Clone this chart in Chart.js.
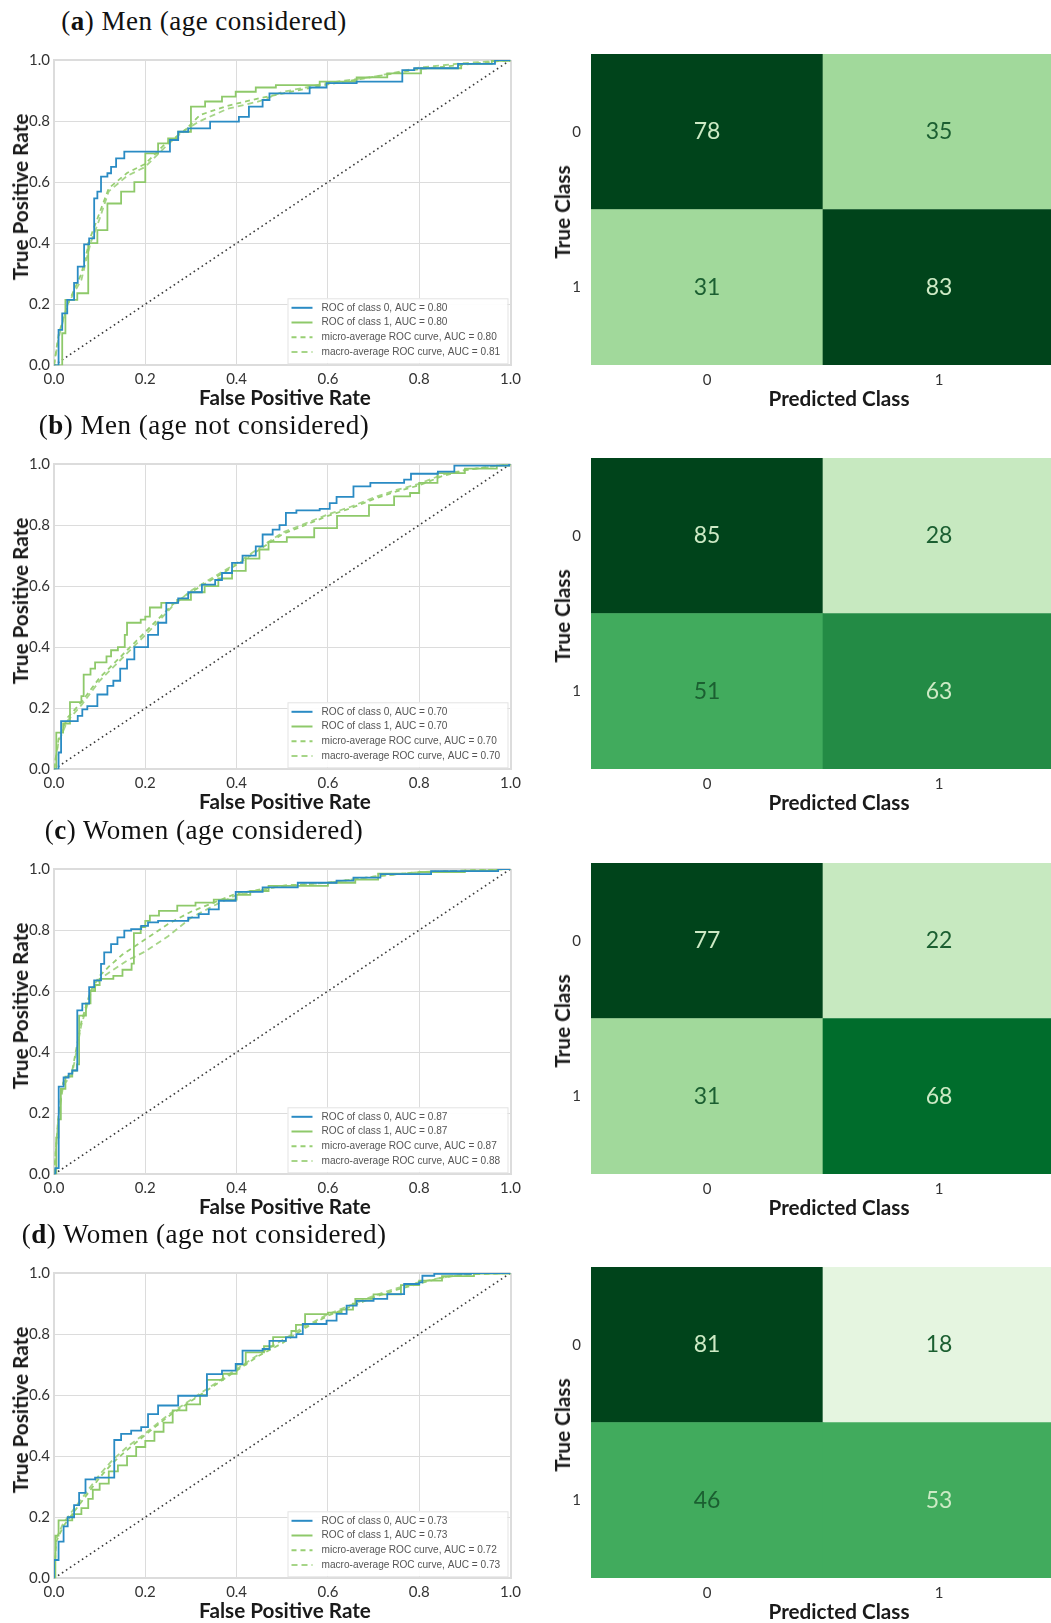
<!DOCTYPE html>
<html>
<head>
<meta charset="utf-8">
<script src="https://cdn.jsdelivr.net/npm/chart.js@4.4.1/dist/chart.umd.min.js"></script>
<style>
  body { margin: 0; background: #fff; width: 1051px; height: 1623px; position: relative; overflow: hidden; }
  .ptitle { position: absolute; font-family: "Liberation Serif", "Times New Roman", serif; font-size: 27px; letter-spacing: 0.5px; line-height: 26px; color: #111; white-space: nowrap; transform: translateX(-50%); }
  .atitle { position: absolute; font-family: Lato, "Open Sans", sans-serif; font-weight: bold; font-size: 20.7px; color: #1a1a1a; white-space: nowrap; transform: translate(-50%, -50%); }
  .atitle.rot { transform: translate(-50%, -50%) rotate(-90deg); }
  canvas { position: absolute; }
</style>
</head>
<body>
<script>
// ---- data ----
const rateTicks = [0, 0.2, 0.4, 0.6, 0.8, 1.0];
const classLabels = ['0', '1'];
const curveNames = ['ROC of class 0', 'ROC of class 1', 'micro-average ROC curve', 'macro-average ROC curve'];

// (a) Men (age considered)
const rocA0 = [[0,0],[0.010,0.116],[0.018,0.17],[0.029,0.214],[0.044,0.27],[0.052,0.323],[0.066,0.396],[0.077,0.416],[0.088,0.547],[0.095,0.569],[0.103,0.618],[0.117,0.629],[0.125,0.65],[0.136,0.678],[0.154,0.70],[0.254,0.738],[0.272,0.765],[0.294,0.776],[0.342,0.798],[0.405,0.814],[0.427,0.847],[0.457,0.869],[0.472,0.891],[0.560,0.910],[0.597,0.924],[0.663,0.929],[0.763,0.967],[0.789,0.973],[0.885,0.987],[0.966,1.0],[1,1]];
const rocA1 = [[0,0],[0.018,0.105],[0.025,0.214],[0.051,0.236],[0.075,0.40],[0.095,0.443],[0.117,0.53],[0.147,0.569],[0.176,0.60],[0.20,0.694],[0.228,0.727],[0.25,0.743],[0.272,0.765],[0.30,0.847],[0.331,0.864],[0.368,0.88],[0.398,0.896],[0.442,0.91],[0.486,0.918],[0.582,0.929],[0.663,0.943],[0.73,0.956],[0.804,0.973],[0.892,0.987],[0.959,0.997],[1,1]];
const rocAmicro = [[0,0],[0.01,0.1],[0.03,0.2],[0.06,0.3],[0.08,0.42],[0.1,0.5],[0.12,0.58],[0.16,0.63],[0.2,0.66],[0.24,0.72],[0.28,0.76],[0.32,0.82],[0.38,0.85],[0.45,0.875],[0.5,0.89],[0.6,0.92],[0.7,0.945],[0.8,0.97],[0.9,0.985],[1,1]];
const rocAmacro = [[0,0],[0.01,0.09],[0.03,0.2],[0.06,0.28],[0.08,0.4],[0.1,0.48],[0.12,0.57],[0.16,0.62],[0.2,0.65],[0.24,0.71],[0.28,0.765],[0.32,0.8],[0.38,0.84],[0.45,0.865],[0.5,0.895],[0.6,0.925],[0.7,0.945],[0.8,0.975],[0.9,0.99],[1,1]];
const aucA = [0.80, 0.80, 0.80, 0.81];
const cmA = [[78, 35], [31, 83]];

// (b) Men (age not considered)
const rocB0 = [[0,0],[0.010,0.055],[0.0155,0.158],[0.052,0.175],[0.062,0.196],[0.073,0.207],[0.095,0.245],[0.117,0.273],[0.13,0.29],[0.145,0.33],[0.16,0.36],[0.176,0.40],[0.206,0.44],[0.228,0.48],[0.246,0.545],[0.272,0.56],[0.294,0.58],[0.324,0.605],[0.353,0.62],[0.368,0.643],[0.39,0.676],[0.413,0.70],[0.442,0.73],[0.457,0.769],[0.479,0.785],[0.494,0.80],[0.508,0.84],[0.531,0.848],[0.582,0.853],[0.604,0.872],[0.619,0.892],[0.656,0.927],[0.693,0.938],[0.767,0.949],[0.782,0.968],[0.841,0.975],[0.877,0.995],[0.997,1.0],[1,1]];
const rocB1 = [[0,0],[0.005,0.12],[0.02,0.15],[0.035,0.22],[0.06,0.24],[0.065,0.31],[0.08,0.33],[0.09,0.35],[0.115,0.37],[0.125,0.39],[0.14,0.40],[0.155,0.44],[0.16,0.48],[0.19,0.49],[0.2,0.50],[0.21,0.53],[0.235,0.545],[0.27,0.555],[0.3,0.58],[0.33,0.6],[0.36,0.625],[0.39,0.65],[0.42,0.69],[0.45,0.72],[0.47,0.745],[0.51,0.76],[0.57,0.79],[0.62,0.83],[0.69,0.865],[0.745,0.894],[0.78,0.905],[0.80,0.938],[0.84,0.97],[0.9,0.985],[0.97,0.995],[1,1]];
const rocBmicro = [[0,0],[0.01,0.1],[0.03,0.17],[0.06,0.22],[0.1,0.3],[0.14,0.36],[0.18,0.42],[0.22,0.48],[0.26,0.54],[0.3,0.58],[0.35,0.625],[0.4,0.67],[0.45,0.72],[0.5,0.77],[0.55,0.8],[0.6,0.83],[0.65,0.855],[0.7,0.885],[0.75,0.91],[0.8,0.93],[0.85,0.96],[0.9,0.98],[0.95,0.99],[1,1]];
const rocBmacro = [[0,0],[0.01,0.09],[0.03,0.16],[0.06,0.21],[0.1,0.29],[0.14,0.35],[0.18,0.41],[0.22,0.47],[0.26,0.535],[0.3,0.585],[0.35,0.63],[0.4,0.675],[0.45,0.725],[0.5,0.775],[0.55,0.805],[0.6,0.835],[0.65,0.86],[0.7,0.89],[0.75,0.915],[0.8,0.935],[0.85,0.965],[0.9,0.98],[0.95,0.99],[1,1]];
const aucB = [0.70, 0.70, 0.70, 0.70];
const cmB = [[85, 28], [51, 63]];

// (c) Women (age considered)
const rocC0 = [[0,0],[0.003,0.02],[0.0103,0.287],[0.021,0.317],[0.032,0.33],[0.04,0.34],[0.051,0.537],[0.062,0.559],[0.077,0.613],[0.088,0.635],[0.103,0.689],[0.11,0.727],[0.125,0.754],[0.139,0.776],[0.154,0.798],[0.169,0.803],[0.191,0.814],[0.206,0.825],[0.228,0.83],[0.294,0.841],[0.317,0.852],[0.339,0.868],[0.361,0.896],[0.398,0.925],[0.457,0.94],[0.534,0.955],[0.619,0.962],[0.656,0.972],[0.715,0.983],[0.826,0.993],[0.973,1.0],[1,1]];
const rocC1 = [[0,0],[0.005,0.12],[0.01,0.18],[0.015,0.28],[0.025,0.32],[0.04,0.34],[0.05,0.36],[0.055,0.52],[0.07,0.56],[0.08,0.6],[0.09,0.62],[0.1,0.64],[0.13,0.65],[0.15,0.67],[0.17,0.69],[0.175,0.79],[0.19,0.81],[0.2,0.83],[0.21,0.847],[0.23,0.863],[0.27,0.88],[0.31,0.89],[0.35,0.90],[0.4,0.915],[0.43,0.928],[0.47,0.945],[0.6,0.955],[0.66,0.965],[0.71,0.985],[0.8,0.99],[0.9,0.995],[0.97,1.0],[1,1]];
const rocCmicro = [[0,0],[0.01,0.2],[0.02,0.3],[0.04,0.34],[0.06,0.5],[0.08,0.6],[0.1,0.65],[0.12,0.68],[0.15,0.72],[0.2,0.77],[0.25,0.82],[0.3,0.86],[0.35,0.89],[0.4,0.92],[0.5,0.945],[0.6,0.955],[0.7,0.975],[0.8,0.99],[0.9,0.995],[1,1]];
const rocCmacro = [[0,0],[0.01,0.19],[0.02,0.29],[0.04,0.33],[0.06,0.49],[0.08,0.59],[0.1,0.64],[0.13,0.67],[0.16,0.7],[0.2,0.73],[0.25,0.78],[0.3,0.84],[0.35,0.88],[0.4,0.915],[0.5,0.945],[0.6,0.955],[0.7,0.975],[0.8,0.99],[0.9,0.995],[1,1]];
const aucC = [0.87, 0.87, 0.87, 0.88];
const cmC = [[77, 22], [31, 68]];

// (d) Women (age not considered)
const rocD0 = [[0,0],[0,0.06],[0.01,0.12],[0.021,0.17],[0.03,0.2],[0.044,0.24],[0.055,0.28],[0.069,0.324],[0.09,0.33],[0.132,0.342],[0.132,0.453],[0.147,0.473],[0.169,0.484],[0.191,0.495],[0.206,0.538],[0.228,0.566],[0.272,0.598],[0.335,0.669],[0.368,0.68],[0.398,0.702],[0.413,0.746],[0.457,0.751],[0.472,0.778],[0.508,0.789],[0.531,0.80],[0.545,0.833],[0.597,0.844],[0.619,0.866],[0.641,0.893],[0.663,0.909],[0.70,0.915],[0.73,0.931],[0.767,0.964],[0.80,0.969],[0.807,0.991],[0.833,0.997],[0.914,1.0],[1,1]];
const rocD1 = [[0,0],[0.003,0.14],[0.01,0.19],[0.04,0.21],[0.06,0.23],[0.075,0.26],[0.085,0.29],[0.1,0.31],[0.12,0.35],[0.14,0.37],[0.16,0.40],[0.18,0.43],[0.2,0.45],[0.22,0.48],[0.24,0.51],[0.26,0.55],[0.29,0.57],[0.32,0.6],[0.335,0.65],[0.37,0.67],[0.4,0.7],[0.42,0.74],[0.46,0.76],[0.48,0.79],[0.52,0.81],[0.53,0.83],[0.55,0.865],[0.6,0.87],[0.63,0.88],[0.655,0.9],[0.66,0.915],[0.7,0.93],[0.76,0.96],[0.8,0.975],[0.85,0.99],[0.92,0.998],[1,1]];
const rocDmicro = [[0,0],[0.005,0.12],[0.02,0.17],[0.05,0.23],[0.08,0.29],[0.1,0.33],[0.13,0.38],[0.16,0.42],[0.2,0.47],[0.25,0.53],[0.3,0.58],[0.35,0.63],[0.4,0.68],[0.45,0.73],[0.5,0.77],[0.55,0.82],[0.6,0.86],[0.65,0.89],[0.7,0.92],[0.75,0.945],[0.8,0.965],[0.85,0.985],[0.9,0.995],[1,1]];
const rocDmacro = [[0,0],[0.005,0.13],[0.02,0.18],[0.05,0.24],[0.08,0.3],[0.1,0.34],[0.13,0.39],[0.16,0.43],[0.2,0.475],[0.25,0.535],[0.3,0.585],[0.35,0.635],[0.4,0.685],[0.45,0.735],[0.5,0.78],[0.55,0.825],[0.6,0.865],[0.65,0.895],[0.7,0.925],[0.75,0.95],[0.8,0.97],[0.85,0.985],[0.9,0.995],[1,1]];
const aucD = [0.73, 0.73, 0.72, 0.73];
const cmD = [[81, 18], [46, 53]];

// cell colours (Greens), rows = true class
const cmColorsA = [['#00441b', '#a1d99b'], ['#a1d99b', '#00441b']];
const cmColorsB = [['#00441b', '#c7e9c0'], ['#41ab5d', '#238b45']];
const cmColorsC = [['#00441b', '#c7e9c0'], ['#a1d99b', '#006d2c']];
const cmColorsD = [['#00441b', '#e5f5e0'], ['#41ab5d', '#41ab5d']];

const panels = [
  { tag: 'a', title: 'Men (age considered)', top: 0, roc: [rocA0, rocA1, rocAmicro, rocAmacro], auc: aucA, cm: cmA, colors: cmColorsA },
  { tag: 'b', title: 'Men (age not considered)', top: 404, roc: [rocB0, rocB1, rocBmicro, rocBmacro], auc: aucB, cm: cmB, colors: cmColorsB },
  { tag: 'c', title: 'Women (age considered)', top: 809, roc: [rocC0, rocC1, rocCmicro, rocCmacro], auc: aucC, cm: cmC, colors: cmColorsC },
  { tag: 'd', title: 'Women (age not considered)', top: 1213, roc: [rocD0, rocD1, rocDmicro, rocDmacro], auc: aucD, cm: cmD, colors: cmColorsD }
];

const curveStyles = [
  { color: '#2a8bc4', dash: [], stepped: true },
  { color: '#8ec96a', dash: [], stepped: true },
  { color: '#98cf73', dash: [5, 4], stepped: false },
  { color: '#a6d588', dash: [6, 4], stepped: false }
];

// legend inside the plot, bottom right
const rocLegend = {
  id: 'rocLegend',
  afterDatasetsDraw(chart) {
    const { ctx, chartArea: a } = chart;
    const items = chart.data.datasets.filter(d => d.inLegend !== false);
    const w = 220, h = 65, rowH = 14.7;
    const right = a.right - 3, bottom = a.bottom - 2;
    const left = right - w, top = bottom - h;
    ctx.save();
    ctx.fillStyle = 'rgba(255,255,255,0.92)';
    ctx.fillRect(left, top, w, h);
    ctx.strokeStyle = '#e3e3e3';
    ctx.lineWidth = 1;
    ctx.strokeRect(left + 0.5, top + 0.5, w, h);
    ctx.font = '10.1px "Liberation Sans", Arial, sans-serif';
    ctx.textBaseline = 'middle';
    items.forEach((d, i) => {
      const y = top + 9.5 + i * rowH;
      ctx.beginPath();
      ctx.setLineDash(d.borderDash || []);
      ctx.strokeStyle = d.borderColor;
      ctx.lineWidth = 2;
      ctx.moveTo(left + 4, y);
      ctx.lineTo(left + 25, y);
      ctx.stroke();
      ctx.setLineDash([]);
      ctx.fillStyle = '#555';
      ctx.fillText(d.label, left + 34, y);
    });
    ctx.restore();
  }
};

// counts written in the middle of each cell
const cellText = {
  id: 'cellText',
  afterDatasetsDraw(chart) {
    const ctx = chart.ctx;
    ctx.save();
    ctx.font = '23px Lato, "Open Sans", sans-serif';
    ctx.textAlign = 'center';
    ctx.textBaseline = 'middle';
    chart.data.datasets.forEach((ds, di) => {
      chart.getDatasetMeta(di).data.forEach((bar, i) => {
        ctx.fillStyle = ds.light[i] ? '#cdeac5' : '#1b5f31';
        ctx.fillText(String(ds.counts[i]), bar.x, (bar.y + bar.base) / 2);
      });
    });
    ctx.restore();
  }
};

function addText(cls, html, x, y) {
  const el = document.createElement('div');
  el.className = cls;
  el.innerHTML = html;
  el.style.left = x + 'px';
  el.style.top = y + 'px';
  document.body.appendChild(el);
}

function addCanvas(x, y, w, h) {
  const c = document.createElement('canvas');
  c.width = w; c.height = h;
  c.style.left = x + 'px'; c.style.top = y + 'px';
  c.style.width = w + 'px'; c.style.height = h + 'px';
  document.body.appendChild(c);
  return c;
}

const tickFont = { family: 'Lato, "Open Sans", sans-serif', size: 15 };
const gridWidth = c => (c.tick && (c.tick.value === 0 || c.tick.value === 1)) ? 2 : 1;

function drawRoc(p) {
  const canvas = addCanvas(0, p.top + 40, 530, 380);
  const datasets = p.roc.map((pts, i) => ({
    label: curveNames[i] + ', AUC = ' + p.auc[i].toFixed(2),
    data: pts.map(([x, y]) => ({ x, y })),
    borderColor: curveStyles[i].color,
    borderWidth: 1.8,
    borderDash: curveStyles[i].dash,
    stepped: curveStyles[i].stepped,
    pointRadius: 0,
    fill: false
  }));
  datasets.push({
    label: 'chance', inLegend: false,
    data: [{ x: 0, y: 0 }, { x: 1, y: 1 }],
    borderColor: '#3a3a3a', borderWidth: 1.6, borderDash: [1.6, 3.2],
    pointRadius: 0, fill: false
  });
  new Chart(canvas, {
    type: 'line',
    data: { datasets },
    plugins: [rocLegend],
    options: {
      responsive: false, animation: false, devicePixelRatio: 1,
      layout: { padding: { top: 20, right: 19.5, bottom: 0, left: 0 } },
      plugins: { legend: { display: false }, tooltip: { enabled: false } },
      scales: {
        x: {
          type: 'linear', min: 0, max: 1,
          afterBuildTicks: s => { s.ticks = rateTicks.map(v => ({ value: v })); },
          afterFit: s => { s.height = 54.7; },
          ticks: { callback: v => v.toFixed(1), font: tickFont, color: '#333', padding: 5, maxRotation: 0 },
          grid: { color: '#dcdcdc', lineWidth: gridWidth, drawTicks: false },
          border: { color: '#dcdcdc', width: 2 }
        },
        y: {
          min: 0, max: 1,
          afterBuildTicks: s => { s.ticks = rateTicks.map(v => ({ value: v })); },
          afterFit: s => { s.width = 54; },
          ticks: { callback: v => v.toFixed(1), font: tickFont, color: '#333', padding: 4 },
          grid: { color: '#dcdcdc', lineWidth: gridWidth, drawTicks: false },
          border: { color: '#dcdcdc', width: 2 }
        }
      }
    }
  });
}

function drawMatrix(p) {
  const canvas = addCanvas(540, p.top + 35, 515, 380);
  const rowSums = p.cm.map(r => r[0] + r[1]);
  // true class 1 first so it stacks below true class 0
  const datasets = [1, 0].map(r => ({
    label: 'True ' + classLabels[r],
    data: classLabels.map(() => 1),
    counts: p.cm[r],
    light: p.cm[r].map(v => v > rowSums[r] / 2),
    backgroundColor: p.colors[r],
    borderWidth: 0,
    barPercentage: 1,
    categoryPercentage: 1
  }));
  new Chart(canvas, {
    type: 'bar',
    data: { labels: classLabels, datasets },
    plugins: [cellText],
    options: {
      responsive: false, animation: false, devicePixelRatio: 1,
      layout: { padding: { top: 19, right: 0, bottom: 0, left: 0 } },
      plugins: { legend: { display: false }, tooltip: { enabled: false } },
      scales: {
        x: {
          stacked: true,
          afterFit: s => { s.height = 50; },
          ticks: { font: tickFont, color: '#333', padding: 6 },
          grid: { display: false, drawTicks: false }, border: { display: false }
        },
        y: {
          stacked: true, min: 0, max: 2,
          afterBuildTicks: s => { s.ticks = [{ value: 0.5 }, { value: 1.5 }]; },
          afterFit: s => { s.width = 51; },
          ticks: { callback: v => classLabels[v < 1 ? 1 : 0], font: tickFont, color: '#333', padding: 10 },
          grid: { display: false, drawTicks: false }, border: { display: false }
        }
      }
    }
  });
}

panels.forEach(p => {
  addText('ptitle', '(<b>' + p.tag + '</b>) ' + p.title, 204, p.top + 8);
  drawRoc(p);
  drawMatrix(p);
  addText('atitle rot', 'True Positive Rate', 20, p.top + 197);
  addText('atitle', 'False Positive Rate', 285, p.top + 397);
  addText('atitle rot', 'True Class', 562, p.top + 212);
  addText('atitle', 'Predicted Class', 839, p.top + 398);
});
</script>
</body>
</html>
